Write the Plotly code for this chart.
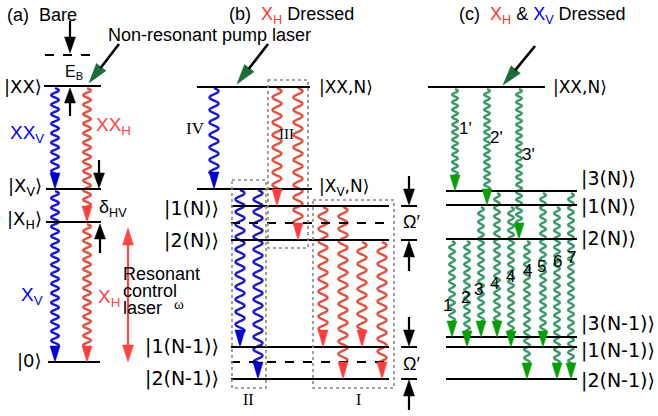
import numpy as np
import plotly.graph_objects as go

# ---------------- data (vertical positions are energies) ----------------
# panel (a): bare states
a_level_names = ["|XX⟩", "|X<sub>V</sub>⟩", "|X<sub>H</sub>⟩", "|0⟩"]
a_level_y = [86, 189, 222, 362]
a_level_label_y = [86, 187, 220, 360]
a_virtual_y = 55
a_trans_x = [55, 55, 87, 87]
a_trans_from = [0, 1, 0, 2]
a_trans_to = [1, 3, 2, 3]
a_trans_col = ["b", "b", "r", "r"]

# panel (b): X_H dressed states
b_top_names = ["|XX,N⟩", "|X<sub>V</sub>,N⟩"]
b_top_y = [87, 189]
b_top_label_y = [87, 187]
b_man_names = ["|1(N)⟩", "|2(N)⟩", "|1(N-1)⟩", "|2(N-1)⟩"]
b_man_y = [206, 240, 347, 379]
b_man_label_y = [208, 240, 346, 378]
b_dash_y = [223, 362]
b_trans_x = [214, 277, 298, 240, 258, 323, 343, 362, 382]
b_trans_y0 = [88, 88, 88, 190, 190, 207, 207, 242, 242]
b_trans_y1 = [189, 206, 240, 347, 379, 347, 379, 347, 379]
b_trans_col = ["b", "r", "r", "b", "b", "r", "r", "r", "r"]
b_box_names = ["III", "II", "I"]
b_box_x0 = [268, 232, 313]
b_box_x1 = [308, 266, 394]
b_box_y0 = [80, 180, 200]
b_box_y1 = [248, 388, 388]

# panel (c): X_H & X_V dressed states
c_top_name = "|XX,N⟩"
c_top_y = 87
c_names = ["|3(N)⟩", "|1(N)⟩", "|2(N)⟩", "|3(N-1)⟩", "|1(N-1)⟩", "|2(N-1)⟩"]
c_y = [191, 205, 239, 337, 347, 379]
c_label_y = [178, 206, 238, 323, 350, 380]
c_up_x = [455, 487, 519]
c_up_to = [191, 205, 239]
c_up_labels = ["1'", "2'", "3'"]
c_up_lx = [465, 496, 528]
c_up_ly = [128, 137, 154]
c_dn_x = [452, 467, 481, 497, 511, 527, 543, 557, 571]
c_dn_from = [239, 239, 205, 191, 205, 239, 191, 205, 191]
c_dn_to = [337, 347, 337, 337, 347, 379, 347, 379, 379]
c_dn_labels = ["1", "2", "3", "4", "4", "4", "5", "6", "7"]
c_dn_lx = [447, 465, 478, 494, 510, 527, 541, 557, 571]
c_dn_ly = [305, 297, 289, 283, 276, 270, 266, 261, 257]

# ---------------- styles ----------------
BLUE_W, BLUE_H = "#1818d6", "#0000d0"
RED_W, RED_H = "#e4503f", "#ff3f3f"
GRN_W, GRN_H = "#3a9a6a", "#079f07"
PUMP_H = "#1b6e3a"
FONT = "Liberation Sans, Arial, sans-serif"
KET = "DejaVu Sans, Liberation Sans, sans-serif"
SERIF = "Liberation Serif, Times New Roman, serif"

fig = go.Figure()
shapes = []
annots = []


def hline(x0, x1, y, dash=None, w=2):
    d = dict(type="line", x0=x0, x1=x1, y0=y, y1=y, xref="x", yref="y",
             line=dict(color="black", width=w))
    if dash:
        d["line"]["dash"] = dash
    shapes.append(d)


def tri(tipx, tipy, ux, uy, hl, hw, color):
    bx, by = tipx - ux * hl, tipy - uy * hl
    px, py = -uy * hw / 2, ux * hw / 2
    path = f"M {tipx},{tipy} L {bx+px},{by+py} L {bx-px},{by-py} Z"
    shapes.append(dict(type="path", path=path, xref="x", yref="y",
                       fillcolor=color, line=dict(color=color, width=0.5)))
    return bx, by


def arrow(x0, y0, x1, y1, color="black", head=None, hl=15, hw=10, lw=2.2):
    dx, dy = x1 - x0, y1 - y0
    L = np.hypot(dx, dy)
    ux, uy = dx / L, dy / L
    bx, by = tri(x1, y1, ux, uy, hl, hw, head or color)
    shapes.append(dict(type="line", x0=x0, y0=y0, x1=bx + ux, y1=by + uy,
                       xref="x", yref="y", line=dict(color=color, width=lw)))


def darrow(x, y0, y1, color, hl=15, hw=10, lw=2.2):
    tri(x, y0, 0, -1, hl, hw, color)
    tri(x, y1, 0, 1, hl, hw, color)
    shapes.append(dict(type="line", x0=x, x1=x, y0=y0 + hl - 1, y1=y1 - hl + 1,
                       xref="x", yref="y", line=dict(color=color, width=lw)))


def wave(x, y0, y1, wcol, hcol, amp, per, hl=15, hw=10, lw=2.4):
    yend = y1 - hl + 2
    yy = np.linspace(y0, yend, int((yend - y0) * 3) + 2)
    xx = x + amp * np.sin(2 * np.pi * (yy - y0) / per)
    fig.add_trace(go.Scatter(x=xx, y=yy, mode="lines", hoverinfo="skip",
                             line=dict(color=wcol, width=lw, shape="spline")))
    tri(x, y1, 0, 1, hl, hw, hcol)


def text(x, y, s, size=18, color="black", anchor="center", family=FONT):
    annots.append(dict(x=x, y=y, xref="x", yref="y", text=s, showarrow=False,
                       xanchor=anchor, yanchor="middle", borderpad=0,
                       font=dict(family=family, size=size, color=color)))


col_w = {"b": BLUE_W, "r": RED_W}
col_h = {"b": BLUE_H, "r": RED_H}

# ---------------- panel (a) ----------------
text(6, 15, "(a)  Bare", anchor="left")
text(107, 35, "Non-resonant pump laser", anchor="left")
a_x0 = [44, 46, 46, 48]
a_x1 = [101, 101, 101, 100]
for i, y in enumerate(a_level_y):
    hline(a_x0[i], a_x1[i], y)
    text(43, a_level_label_y[i], a_level_names[i], anchor="right", family=KET, size=18)
hline(45, 98, a_virtual_y, dash="dash")
for i in range(4):
    c = a_trans_col[i]
    wave(a_trans_x[i], a_level_y[a_trans_from[i]] + 2, a_level_y[a_trans_to[i]],
         col_w[c], col_h[c], amp=3.8, per=9.5, hl=16, hw=10)
arrow(70, 21, 70, a_virtual_y - 2, hl=16, hw=11)
text(74, 72, "E<sub>B</sub>", size=16)
arrow(70, 116, 70, a_level_y[0] + 2, hl=15, hw=11)
arrow(99, 160, 99, a_level_y[1] - 1, hl=15, hw=11)
text(113, 208, "δ<sub>HV</sub>", size=18)
arrow(100, 253, 100, a_level_y[2] + 2, hl=15, hw=11)
arrow(119, 44, 89, 83, head=PUMP_H, hl=20, hw=12, lw=2.6)
text(27, 134, "XX<sub>V</sub>", color="#0000ff", size=19)
text(113, 126, "XX<sub>H</sub>", color="#ff4444", size=19)
text(32, 296, "X<sub>V</sub>", color="#0000ff", size=19)
text(109, 298, "X<sub>H</sub>", color="#ff4444", size=19)
darrow(128, 228, a_level_y[3], "#ff4444", hl=17, hw=11, lw=2.2)
text(122, 274, "Resonant", anchor="left")
text(122, 291, "control", anchor="left")
text(122, 308, "laser", anchor="left")
text(179, 304, "ω", size=15, family=SERIF)

# ---------------- panel (b) ----------------
text(228, 15, "(b)  <span style='color:#ff3333'>X<sub>H</sub></span> Dressed", anchor="left")
hline(197, 310, b_top_y[0])
hline(197, 312, b_top_y[1])
for i in range(2):
    text(318, b_top_label_y[i], b_top_names[i], anchor="left", family=KET, size=17)
for i, y in enumerate(b_man_y):
    hline(231, 389, y)
    text(220, b_man_label_y[i], b_man_names[i], anchor="right", family=KET, size=19)
for y in b_dash_y:
    hline(231, 389, y, dash="dash")
for i in range(3):
    shapes.append(dict(type="rect", x0=b_box_x0[i], x1=b_box_x1[i], y0=b_box_y0[i],
                       y1=b_box_y1[i], xref="x", yref="y",
                       line=dict(color="#888888", width=1.6, dash="dot")))
for i in range(len(b_trans_x)):
    c = b_trans_col[i]
    wave(b_trans_x[i], b_trans_y0[i], b_trans_y1[i], col_w[c], col_h[c],
         amp=4.5, per=12.5, hl=17, hw=10)
arrow(268, 44, 237, 84, head=PUMP_H, hl=20, hw=12, lw=2.6)
text(195, 128, "IV", size=17, family=SERIF)
text(286, 134, "III", size=15, family=SERIF)
text(248, 399, "II", size=16, family=SERIF)
text(358, 399, "I", size=16, family=SERIF)
for (ya, yb, ylab) in [(b_man_y[0], b_man_y[1], 222), (b_man_y[2], b_man_y[3], 364)]:
    arrow(409, ya - 30, 409, ya - 1, hl=16, hw=11)
    arrow(409, yb + 31, 409, yb + 1, hl=16, hw=11)
    hline(401, 417, ya, w=2)
    hline(401, 417, yb, w=2)
    text(411, ylab, "Ω′", size=18)

# ---------------- panel (c) ----------------
text(458, 15, "(c)  <span style='color:#ff3333'>X<sub>H</sub></span> &amp; "
     "<span style='color:#0000ff'>X<sub>V</sub></span> Dressed", anchor="left")
hline(428, 545, c_top_y)
text(552, 87, c_top_name, anchor="left", family=KET, size=17)
for i, y in enumerate(c_y):
    hline(446, 577, y)
    text(580, c_label_y[i], c_names[i], anchor="left", family=KET, size=19)
for i in range(3):
    wave(c_up_x[i], c_top_y + 2, c_up_to[i], GRN_W, GRN_H, amp=2.8, per=7.5, hl=16, hw=10)
    text(c_up_lx[i], c_up_ly[i], c_up_labels[i], size=17)
for i in range(len(c_dn_x)):
    wave(c_dn_x[i], c_dn_from[i] + 2, c_dn_to[i], GRN_W, GRN_H, amp=2.8, per=8.5, hl=16, hw=10)
    text(c_dn_lx[i], c_dn_ly[i], c_dn_labels[i], size=17)
arrow(535, 46, 503, 85, head=PUMP_H, hl=20, hw=12, lw=2.6)

fig.update_layout(
    width=658, height=416, margin=dict(l=0, r=0, t=0, b=0),
    paper_bgcolor="white", plot_bgcolor="white", showlegend=False,
    xaxis=dict(range=[0, 658], visible=False, fixedrange=True),
    yaxis=dict(range=[416, 0], visible=False, fixedrange=True),
    shapes=shapes, annotations=annots,
)
fig.write_html("out.html", config={"displayModeBar": False})
